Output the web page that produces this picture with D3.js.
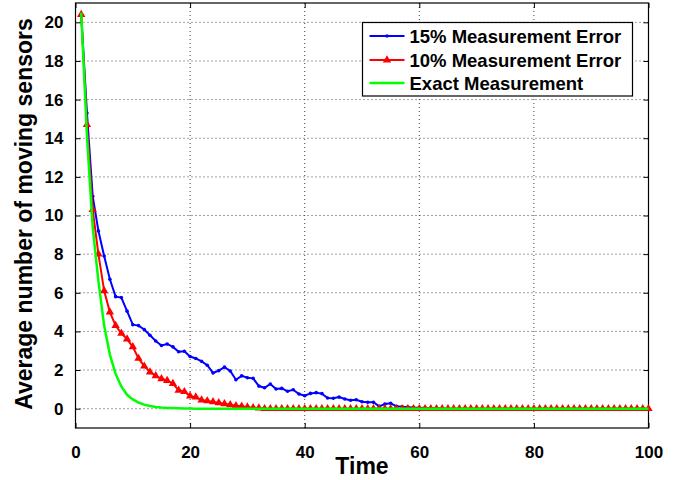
<!DOCTYPE html>
<html>
<head>
<meta charset="utf-8">
<script src="https://cdn.jsdelivr.net/npm/d3@7"></script>
<style>
  body { margin: 0; background: #fff; }
  text { font-family: "Liberation Sans", Arial, sans-serif; font-weight: bold; }
</style>
</head>
<body>
<div class="vis"></div>
<script>
// time steps 1..100
var time = d3.range(1, 101);

var err15 = [
	20.4, 15.3, 11.0, 9.2, 7.9, 6.7, 5.8, 5.75, 5.05, 4.35,
	4.3, 4.1, 3.8, 3.5, 3.27, 3.35, 3.2, 2.95, 2.97, 2.7,
	2.6, 2.45, 2.25, 1.85, 1.97, 2.15, 1.95, 1.5, 1.7, 1.6,
	1.57, 1.17, 1.08, 1.28, 1.02, 1.05, 0.9, 0.98, 0.76, 0.67,
	0.79, 0.83, 0.78, 0.55, 0.54, 0.6, 0.5, 0.44, 0.46, 0.36,
	0.33, 0.33, 0.12, 0.24, 0.28, 0.12, 0.1, 0.08, 0.06, 0.05,
	0.03, 0.02, 0.02, 0.01, 0, 0, 0, 0, 0, 0,
	0, 0, 0, 0, 0, 0, 0, 0, 0, 0,
	0, 0, 0, 0, 0, 0, 0, 0, 0, 0,
	0, 0, 0, 0, 0, 0, 0, 0, 0, 0
];

var err10 = [
	20.4, 14.7, 10.3, 8.0, 6.1, 5.0, 4.3, 3.9, 3.6, 3.2,
	2.6, 2.2, 1.9, 1.7, 1.55, 1.45, 1.3, 0.95, 0.88, 0.65,
	0.6, 0.45, 0.4, 0.35, 0.3, 0.25, 0.2, 0.15, 0.12, 0.08,
	0.05, 0.03, 0, 0, 0, 0, 0, 0, 0, 0,
	0, 0, 0, 0, 0, 0, 0, 0, 0, 0,
	0, 0, 0, 0, 0, 0, 0, 0, 0, 0,
	0, 0, 0, 0, 0, 0, 0, 0, 0, 0,
	0, 0, 0, 0, 0, 0, 0, 0, 0, 0,
	0, 0, 0, 0, 0, 0, 0, 0, 0, 0,
	0, 0, 0, 0, 0, 0, 0, 0, 0, 0
];

var exact = [
	20.5, 14.1, 9.4, 6.6, 4.3, 2.8, 1.8, 1.15, 0.72, 0.48,
	0.32, 0.21, 0.14, 0.09, 0.06, 0.04, 0.03, 0.02, 0.01, 0.01,
	0, 0, 0, 0, 0, 0, 0, 0, 0, 0,
	0, 0, 0, 0, 0, 0, 0, 0, 0, 0,
	0, 0, 0, 0, 0, 0, 0, 0, 0, 0,
	0, 0, 0, 0, 0, 0, 0, 0, 0, 0,
	0, 0, 0, 0, 0, 0, 0, 0, 0, 0,
	0, 0, 0, 0, 0, 0, 0, 0, 0, 0,
	0, 0, 0, 0, 0, 0, 0, 0, 0, 0,
	0, 0, 0, 0, 0, 0, 0, 0, 0, 0
];

var xTicks = [0, 20, 40, 60, 80, 100];
var yTicks = [0, 2, 4, 6, 8, 10, 12, 14, 16, 18, 20];
var legendLabels = ["15% Measurement Error", "10% Measurement Error", "Exact Measurement"];

// set the dimensions and margins of the graph
var margin = {top: 3, right: 35.5, bottom: 52, left: 75.5};
var width = 684 - margin.left - margin.right;
var height = 480 - margin.top - margin.bottom;

var root = d3.select(".vis")
	.append("svg")
	.attr("width", 684)
	.attr("height", 480);

var svg = root.append("g")
	.attr("transform", "translate(" + margin.left + "," + margin.top + ")");

var x = d3.scaleLinear().domain([0, 100]).range([0, width]);
var y = d3.scaleLinear().domain([-1, 21]).range([height, 0]);

// grid (dotted, matlab style)
svg.append("g")
	.selectAll("line")
	.data(xTicks.slice(1, -1))
	.enter().append("line")
	.attr("x1", d => x(d)).attr("x2", d => x(d))
	.attr("y1", 0).attr("y2", height)
	.attr("stroke", "#444").attr("stroke-width", 1)
	.attr("stroke-dasharray", "1,3");

svg.append("g")
	.selectAll("line")
	.data(yTicks)
	.enter().append("line")
	.attr("x1", 0).attr("x2", width)
	.attr("y1", d => y(d)).attr("y2", d => y(d))
	.attr("stroke", "#444").attr("stroke-width", 1)
	.attr("stroke-dasharray", "1,3");

// axes, ticks pointing inward on all four sides
function styleAxis(g) {
	g.select(".domain").remove();
	g.selectAll("line").attr("stroke", "#000");
	g.selectAll("text").attr("fill", "#000").style("font-size", "17px");
}

svg.append("g")
	.attr("transform", "translate(0," + height + ")")
	.call(d3.axisBottom(x).tickValues(xTicks).tickSizeInner(-5).tickSizeOuter(0).tickPadding(18))
	.call(styleAxis);

svg.append("g")
	.call(d3.axisTop(x).tickValues(xTicks).tickSizeInner(-5).tickSizeOuter(0).tickFormat(""))
	.call(styleAxis);

svg.append("g")
	.call(d3.axisLeft(y).tickValues(yTicks).tickSizeInner(-5).tickSizeOuter(0).tickPadding(12))
	.call(styleAxis);

svg.append("g")
	.attr("transform", "translate(" + width + ",0)")
	.call(d3.axisRight(y).tickValues(yTicks).tickSizeInner(-5).tickSizeOuter(0).tickFormat(""))
	.call(styleAxis);

// plot box
svg.append("rect")
	.attr("width", width).attr("height", height)
	.attr("fill", "none").attr("stroke", "#000").attr("stroke-width", 1.2);

var line = d3.line()
	.x((d, i) => x(time[i]))
	.y(d => y(d));

// 15% series
svg.append("path")
	.datum(err15)
	.attr("d", line)
	.attr("fill", "none").attr("stroke", "#0000ff").attr("stroke-width", 2);

svg.append("g")
	.selectAll("circle")
	.data(err15)
	.enter().append("circle")
	.attr("cx", (d, i) => x(time[i]))
	.attr("cy", d => y(d))
	.attr("r", 1.8)
	.attr("fill", "#0000ff");

// 10% series
svg.append("path")
	.datum(err10)
	.attr("d", line)
	.attr("fill", "none").attr("stroke", "#ff0000").attr("stroke-width", 2);

var tri = d3.symbol().type(d3.symbolTriangle).size(30);
svg.append("g")
	.selectAll("path")
	.data(err10)
	.enter().append("path")
	.attr("d", tri)
	.attr("transform", (d, i) => "translate(" + x(time[i]) + "," + y(d) + ")")
	.attr("fill", "#ff0000");

// exact
svg.append("path")
	.datum(exact)
	.attr("d", line)
	.attr("fill", "none").attr("stroke", "#00ff00").attr("stroke-width", 2.5);

// axis labels
root.append("text")
	.attr("x", 362).attr("y", 474)
	.attr("text-anchor", "middle")
	.style("font-size", "23px")
	.text("Time");

root.append("text")
	.attr("transform", "translate(31.5,214) rotate(-90)")
	.attr("text-anchor", "middle")
	.style("font-size", "23px")
	.text("Average number of moving sensors");

// legend
var lg = root.append("g").attr("transform", "translate(362.5,22.5)");
lg.append("rect")
	.attr("width", 270).attr("height", 73.5)
	.attr("fill", "#fff").attr("stroke", "#000").attr("stroke-width", 1.2);

var colors = ["#0000ff", "#ff0000", "#00ff00"];
var rowY = [13.5, 37.5, 60.5];
legendLabels.forEach(function(lbl, i) {
	lg.append("line")
		.attr("x1", 7).attr("x2", 42)
		.attr("y1", rowY[i]).attr("y2", rowY[i])
		.attr("stroke", colors[i]).attr("stroke-width", i == 2 ? 2.5 : 2);
	if (i == 0) {
		lg.append("circle").attr("cx", 24.5).attr("cy", rowY[i]).attr("r", 1.8).attr("fill", colors[i]);
	}
	if (i == 1) {
		lg.append("path").attr("d", tri)
			.attr("transform", "translate(24.5," + rowY[i] + ")")
			.attr("fill", colors[i]);
	}
	lg.append("text")
		.attr("x", 47).attr("y", rowY[i] + 7)
		.style("font-size", "18.5px")
		.text(lbl);
});
</script>
</body>
</html>
